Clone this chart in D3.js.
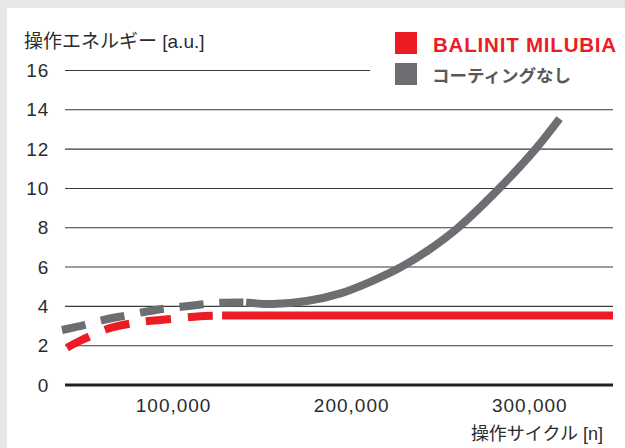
<!DOCTYPE html>
<html>
<head>
<meta charset="utf-8">
<script src="https://cdn.jsdelivr.net/npm/d3@7"></script>
<style>
  body { margin: 0; background: #e6e7e8; }
  svg { display: block; }
  text { font-family: "Liberation Sans", "Noto Sans CJK JP", sans-serif; fill: #2b2b2d; }
</style>
</head>
<body>
<div id="chart"></div>
<script>
// data
var yTicks = [0, 2, 4, 6, 8, 10, 12, 14, 16];
var xTicks = [100000, 200000, 300000];
var seriesNames = ["BALINIT MILUBIA", "コーティングなし"];

// BALINIT MILUBIA: dashed run-in, then flat
var redDashN = [40400, 47800, 53900, 62900, 77500, 87600, 102200, 115200, 127500];
var redDashV = [1.9, 2.25, 2.5, 2.85, 3.15, 3.27, 3.39, 3.5, 3.53];
var redSolidN = [127500, 347000];
var redSolidV = [3.53, 3.53];

// uncoated: dashed run-in, then rising
var grayDashN = [37600, 50000, 59000, 72500, 81500, 95000, 104500, 118000, 127500, 141000];
var grayDashV = [2.8, 3.05, 3.27, 3.52, 3.68, 3.88, 3.98, 4.12, 4.19, 4.2];
var graySolidN = [141000, 156000, 175000, 194000, 212000, 228000, 244000, 260000, 282000, 303000, 317000];
var graySolidV = [4.2, 4.12, 4.27, 4.66, 5.3, 6.0, 6.9, 8.0, 9.9, 11.95, 13.55];

var red = "#ed1c24";
var gray = "#6d6e71";

var svgWidth = 625;
var svgHeight = 448;

var svg = d3.select("#chart")
  .append("svg")
  .attr("width", svgWidth)
  .attr("height", svgHeight);

// white panel on the grey page
svg.append("rect")
  .attr("x", 7)
  .attr("y", 8)
  .attr("width", svgWidth - 7)
  .attr("height", svgHeight - 8)
  .attr("fill", "#fff");

var left = 65, right = 613;

var x = d3.scaleLinear().domain([39300, 347000]).range([left, right]);
var y = d3.scaleLinear().domain([0, 16]).range([385, 70.5]);

// grid lines
svg.append("g").selectAll("line")
  .data(yTicks.filter(d => d > 0))
  .enter()
  .append("line")
  .attr("x1", left)
  .attr("x2", d => d === 16 ? 370 : right)
  .attr("y1", d => y(d))
  .attr("y2", d => y(d))
  .attr("stroke", "#3a3a3c")
  .attr("stroke-width", 1.1);

// y axis labels
var yAxis = d3.axisLeft(y).tickValues(yTicks).tickSize(0).tickPadding(16);
var yG = svg.append("g")
  .attr("transform", `translate(${left}, 0)`)
  .call(yAxis);
yG.select(".domain").remove();
yG.selectAll("text")
  .attr("font-size", "19px")
  .attr("font-family", "Liberation Sans, sans-serif")
  .attr("fill", "#2b2b2d")
  .attr("letter-spacing", "0.8px");

// x axis labels
var xAxis = d3.axisBottom(x).tickValues(xTicks).tickSize(0).tickFormat(d3.format(","));
var xG = svg.append("g")
  .attr("transform", `translate(0, ${y(0)})`)
  .call(xAxis);
xG.select(".domain").remove();
xG.selectAll("text")
  .attr("y", 27)
  .attr("dy", null)
  .attr("font-size", "19px")
  .attr("font-family", "Liberation Sans, sans-serif")
  .attr("fill", "#2b2b2d")
  .attr("letter-spacing", "1px");

// zero line
svg.append("line")
  .attr("x1", left)
  .attr("x2", right)
  .attr("y1", y(0))
  .attr("y2", y(0))
  .attr("stroke", "#231f20")
  .attr("stroke-width", 3);

// lines
var line = d3.line()
  .x(d => x(d[0]))
  .y(d => y(d[1]))
  .curve(d3.curveCatmullRom.alpha(0.5));

function drawLine(ns, vs, color, dash) {
  var pts = ns.map((n, i) => [n, vs[i]]);
  var p = svg.append("path")
    .datum(pts)
    .attr("d", line)
    .attr("fill", "none")
    .attr("stroke", color)
    .attr("stroke-width", 8);
  if (dash) p.attr("stroke-dasharray", dash);
}

drawLine(grayDashN, grayDashV, gray, "24,16");
drawLine(graySolidN, graySolidV, gray, null);
drawLine(redDashN, redDashV, red, "25,17");
drawLine(redSolidN, redSolidV, red, null);

// axis titles
svg.append("text")
  .attr("x", 24)
  .attr("y", 48)
  .attr("font-size", "19px")
  .text("操作エネルギー [a.u.]");

svg.append("text")
  .attr("x", 603)
  .attr("y", 440)
  .attr("text-anchor", "end")
  .attr("font-size", "18px")
  .text("操作サイクル [n]");

// legend
var legend = svg.append("g");
legend.append("rect")
  .attr("x", 395).attr("y", 32)
  .attr("width", 22).attr("height", 22)
  .attr("fill", red);
legend.append("rect")
  .attr("x", 395).attr("y", 63)
  .attr("width", 22).attr("height", 22)
  .attr("fill", gray);
legend.append("text")
  .attr("x", 433).attr("y", 52)
  .attr("font-size", "20.5px")
  .attr("font-weight", "bold")
  .attr("letter-spacing", "0.8px")
  .style("fill", red)
  .text(seriesNames[0]);
legend.append("text")
  .attr("x", 432).attr("y", 82)
  .attr("font-size", "17.5px")
  .attr("font-weight", "bold")
  .style("fill", "#58595b")
  .text(seriesNames[1]);
</script>
</body>
</html>
